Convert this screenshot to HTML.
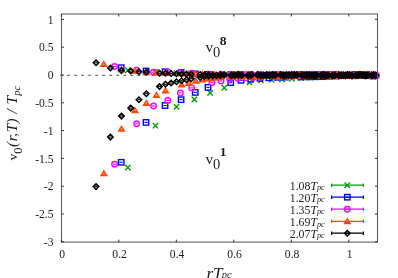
<!DOCTYPE html>
<html><head><meta charset="utf-8"><title>plot</title>
<style>html,body{margin:0;padding:0;background:#fff}body{width:398px;height:278px;overflow:hidden;font-family:"Liberation Serif",serif}</style>
</head><body>
<svg width="398" height="278" viewBox="0 0 398 278" style="display:block;will-change:transform">
<rect width="398" height="278" fill="#fff"/>
<path d="M60.1 75.3H377.5" stroke="#444" stroke-width="0.95" stroke-dasharray="2.8 4.23" fill="none"/>
<g id="data">
<path d="M125.15 164.81L130.55 170.21M125.15 170.21L130.55 164.81" stroke="#00a000" stroke-width="1.4" fill="none"/>
<path d="M152.72 122.98L158.12 128.38M152.72 128.38L158.12 122.98" stroke="#00a000" stroke-width="1.4" fill="none"/>
<path d="M173.87 104.09L179.27 109.49M173.87 109.49L179.27 104.09" stroke="#00a000" stroke-width="1.4" fill="none"/>
<path d="M191.70 96.78L197.10 102.18M191.70 102.18L197.10 96.78" stroke="#00a000" stroke-width="1.4" fill="none"/>
<path d="M207.41 90.18L212.81 95.58M207.41 95.58L212.81 90.18" stroke="#00a000" stroke-width="1.4" fill="none"/>
<path d="M221.62 85.03L227.02 90.43M221.62 90.43L227.02 85.03" stroke="#00a000" stroke-width="1.4" fill="none"/>
<path d="M246.83 79.71L252.23 85.11M246.83 85.11L252.23 79.71" stroke="#00a000" stroke-width="1.4" fill="none"/>
<path d="M258.25 77.72L263.65 83.12M258.25 83.12L263.65 77.72" stroke="#00a000" stroke-width="1.4" fill="none"/>
<path d="M269.05 77.22L274.45 82.62M269.05 82.62L274.45 77.22" stroke="#00a000" stroke-width="1.4" fill="none"/>
<path d="M279.32 76.55L284.72 81.95M279.32 81.95L284.72 76.55" stroke="#00a000" stroke-width="1.4" fill="none"/>
<path d="M289.14 76.00L294.54 81.40M289.14 81.40L294.54 76.00" stroke="#00a000" stroke-width="1.4" fill="none"/>
<path d="M298.55 75.45L303.95 80.85M298.55 80.85L303.95 75.45" stroke="#00a000" stroke-width="1.4" fill="none"/>
<path d="M307.61 74.89L313.01 80.29M307.61 80.29L313.01 74.89" stroke="#00a000" stroke-width="1.4" fill="none"/>
<path d="M324.80 73.62L330.20 79.02M324.80 79.02L330.20 73.62" stroke="#00a000" stroke-width="1.4" fill="none"/>
<path d="M333.00 73.29L338.40 78.69M333.00 78.69L338.40 73.29" stroke="#00a000" stroke-width="1.4" fill="none"/>
<path d="M340.95 73.06L346.35 78.46M340.95 78.46L346.35 73.06" stroke="#00a000" stroke-width="1.4" fill="none"/>
<path d="M348.69 72.95L354.09 78.35M348.69 78.35L354.09 72.95" stroke="#00a000" stroke-width="1.4" fill="none"/>
<path d="M356.22 73.33L361.62 78.73M356.22 78.73L361.62 73.33" stroke="#00a000" stroke-width="1.4" fill="none"/>
<path d="M363.57 72.95L368.97 78.35M363.57 78.35L368.97 72.95" stroke="#00a000" stroke-width="1.4" fill="none"/>
<path d="M370.75 73.32L376.15 78.72M370.75 78.72L376.15 73.32" stroke="#00a000" stroke-width="1.4" fill="none"/>
<path d="M125.15 67.58L130.55 72.98M125.15 72.98L130.55 67.58" stroke="#00a000" stroke-width="1.4" fill="none"/>
<path d="M152.72 69.35L158.12 74.75M152.72 74.75L158.12 69.35" stroke="#00a000" stroke-width="1.4" fill="none"/>
<path d="M173.87 70.46L179.27 75.86M173.87 75.86L179.27 70.46" stroke="#00a000" stroke-width="1.4" fill="none"/>
<path d="M191.70 71.62L197.10 77.02M191.70 77.02L197.10 71.62" stroke="#00a000" stroke-width="1.4" fill="none"/>
<path d="M207.41 71.85L212.81 77.25M207.41 77.25L212.81 71.85" stroke="#00a000" stroke-width="1.4" fill="none"/>
<path d="M221.62 71.96L227.02 77.36M221.62 77.36L227.02 71.96" stroke="#00a000" stroke-width="1.4" fill="none"/>
<path d="M246.83 72.07L252.23 77.47M246.83 77.47L252.23 72.07" stroke="#00a000" stroke-width="1.4" fill="none"/>
<path d="M258.25 72.12L263.65 77.52M258.25 77.52L263.65 72.12" stroke="#00a000" stroke-width="1.4" fill="none"/>
<path d="M269.05 71.98L274.45 77.38M269.05 77.38L274.45 71.98" stroke="#00a000" stroke-width="1.4" fill="none"/>
<path d="M279.32 72.18L284.72 77.58M279.32 77.58L284.72 72.18" stroke="#00a000" stroke-width="1.4" fill="none"/>
<path d="M289.14 71.74L294.54 77.14M289.14 77.14L294.54 71.74" stroke="#00a000" stroke-width="1.4" fill="none"/>
<path d="M298.55 71.88L303.95 77.28M298.55 77.28L303.95 71.88" stroke="#00a000" stroke-width="1.4" fill="none"/>
<path d="M307.61 71.82L313.01 77.22M307.61 77.22L313.01 71.82" stroke="#00a000" stroke-width="1.4" fill="none"/>
<path d="M324.80 72.14L330.20 77.54M324.80 77.54L330.20 72.14" stroke="#00a000" stroke-width="1.4" fill="none"/>
<path d="M333.00 72.51L338.40 77.91M333.00 77.91L338.40 72.51" stroke="#00a000" stroke-width="1.4" fill="none"/>
<path d="M340.95 72.06L346.35 77.46M340.95 77.46L346.35 72.06" stroke="#00a000" stroke-width="1.4" fill="none"/>
<path d="M348.69 71.95L354.09 77.35M348.69 77.35L354.09 71.95" stroke="#00a000" stroke-width="1.4" fill="none"/>
<path d="M356.22 72.53L361.62 77.93M356.22 77.93L361.62 72.53" stroke="#00a000" stroke-width="1.4" fill="none"/>
<path d="M363.57 72.15L368.97 77.55M363.57 77.55L368.97 72.15" stroke="#00a000" stroke-width="1.4" fill="none"/>
<path d="M370.75 72.53L376.15 77.93M370.75 77.93L376.15 72.53" stroke="#00a000" stroke-width="1.4" fill="none"/>
<path d="M119.60 162.30H122.80" stroke="#0000ff" stroke-width="1.1"/><rect x="118.50" y="159.60" width="5.4" height="5.4" stroke="#0000ff" stroke-width="1.4" fill="none"/>
<path d="M144.41 122.41H147.61" stroke="#0000ff" stroke-width="1.1"/><rect x="143.31" y="119.71" width="5.4" height="5.4" stroke="#0000ff" stroke-width="1.4" fill="none"/>
<path d="M163.44 105.51H166.64" stroke="#0000ff" stroke-width="1.1"/><rect x="162.34" y="102.81" width="5.4" height="5.4" stroke="#0000ff" stroke-width="1.4" fill="none"/>
<path d="M179.49 99.70H182.69" stroke="#0000ff" stroke-width="1.1"/><rect x="178.39" y="97.00" width="5.4" height="5.4" stroke="#0000ff" stroke-width="1.4" fill="none"/>
<path d="M193.63 92.38H196.83" stroke="#0000ff" stroke-width="1.1"/><rect x="192.53" y="89.68" width="5.4" height="5.4" stroke="#0000ff" stroke-width="1.4" fill="none"/>
<path d="M206.41 87.40H209.61" stroke="#0000ff" stroke-width="1.1"/><rect x="205.31" y="84.70" width="5.4" height="5.4" stroke="#0000ff" stroke-width="1.4" fill="none"/>
<path d="M229.11 82.69H232.31" stroke="#0000ff" stroke-width="1.1"/><rect x="228.01" y="79.99" width="5.4" height="5.4" stroke="#0000ff" stroke-width="1.4" fill="none"/>
<path d="M239.39 80.31H242.59" stroke="#0000ff" stroke-width="1.1"/><rect x="238.29" y="77.61" width="5.4" height="5.4" stroke="#0000ff" stroke-width="1.4" fill="none"/>
<path d="M249.11 79.31H252.31" stroke="#0000ff" stroke-width="1.1"/><rect x="248.01" y="76.61" width="5.4" height="5.4" stroke="#0000ff" stroke-width="1.4" fill="none"/>
<path d="M258.35 78.31H261.55" stroke="#0000ff" stroke-width="1.1"/><rect x="257.25" y="75.61" width="5.4" height="5.4" stroke="#0000ff" stroke-width="1.4" fill="none"/>
<path d="M267.19 77.81H270.39" stroke="#0000ff" stroke-width="1.1"/><rect x="266.09" y="75.11" width="5.4" height="5.4" stroke="#0000ff" stroke-width="1.4" fill="none"/>
<path d="M275.66 77.32H278.86" stroke="#0000ff" stroke-width="1.1"/><rect x="274.56" y="74.62" width="5.4" height="5.4" stroke="#0000ff" stroke-width="1.4" fill="none"/>
<path d="M283.81 77.09H287.01" stroke="#0000ff" stroke-width="1.1"/><rect x="282.71" y="74.39" width="5.4" height="5.4" stroke="#0000ff" stroke-width="1.4" fill="none"/>
<path d="M299.28 76.98H302.48" stroke="#0000ff" stroke-width="1.1"/><rect x="298.18" y="74.28" width="5.4" height="5.4" stroke="#0000ff" stroke-width="1.4" fill="none"/>
<path d="M306.66 76.87H309.86" stroke="#0000ff" stroke-width="1.1"/><rect x="305.56" y="74.17" width="5.4" height="5.4" stroke="#0000ff" stroke-width="1.4" fill="none"/>
<path d="M313.82 76.76H317.02" stroke="#0000ff" stroke-width="1.1"/><rect x="312.72" y="74.06" width="5.4" height="5.4" stroke="#0000ff" stroke-width="1.4" fill="none"/>
<path d="M320.78 76.65H323.98" stroke="#0000ff" stroke-width="1.1"/><rect x="319.68" y="73.95" width="5.4" height="5.4" stroke="#0000ff" stroke-width="1.4" fill="none"/>
<path d="M327.56 76.21H330.76" stroke="#0000ff" stroke-width="1.1"/><rect x="326.46" y="73.51" width="5.4" height="5.4" stroke="#0000ff" stroke-width="1.4" fill="none"/>
<path d="M334.18 75.93H337.38" stroke="#0000ff" stroke-width="1.1"/><rect x="333.08" y="73.23" width="5.4" height="5.4" stroke="#0000ff" stroke-width="1.4" fill="none"/>
<path d="M340.64 75.65H343.84" stroke="#0000ff" stroke-width="1.1"/><rect x="339.54" y="72.95" width="5.4" height="5.4" stroke="#0000ff" stroke-width="1.4" fill="none"/>
<path d="M353.13 75.34H356.33" stroke="#0000ff" stroke-width="1.1"/><rect x="352.03" y="72.64" width="5.4" height="5.4" stroke="#0000ff" stroke-width="1.4" fill="none"/>
<path d="M359.18 75.59H362.38" stroke="#0000ff" stroke-width="1.1"/><rect x="358.08" y="72.89" width="5.4" height="5.4" stroke="#0000ff" stroke-width="1.4" fill="none"/>
<path d="M365.11 75.45H368.31" stroke="#0000ff" stroke-width="1.1"/><rect x="364.01" y="72.75" width="5.4" height="5.4" stroke="#0000ff" stroke-width="1.4" fill="none"/>
<path d="M370.93 75.99H374.13" stroke="#0000ff" stroke-width="1.1"/><rect x="369.83" y="73.29" width="5.4" height="5.4" stroke="#0000ff" stroke-width="1.4" fill="none"/>
<path d="M119.60 67.73H122.80" stroke="#0000ff" stroke-width="1.1"/><rect x="118.50" y="65.03" width="5.4" height="5.4" stroke="#0000ff" stroke-width="1.4" fill="none"/>
<path d="M144.41 71.00H147.61" stroke="#0000ff" stroke-width="1.1"/><rect x="143.31" y="68.30" width="5.4" height="5.4" stroke="#0000ff" stroke-width="1.4" fill="none"/>
<path d="M163.44 71.78H166.64" stroke="#0000ff" stroke-width="1.1"/><rect x="162.34" y="69.08" width="5.4" height="5.4" stroke="#0000ff" stroke-width="1.4" fill="none"/>
<path d="M179.49 72.50H182.69" stroke="#0000ff" stroke-width="1.1"/><rect x="178.39" y="69.80" width="5.4" height="5.4" stroke="#0000ff" stroke-width="1.4" fill="none"/>
<path d="M193.63 73.88H196.83" stroke="#0000ff" stroke-width="1.1"/><rect x="192.53" y="71.18" width="5.4" height="5.4" stroke="#0000ff" stroke-width="1.4" fill="none"/>
<path d="M206.41 74.44H209.61" stroke="#0000ff" stroke-width="1.1"/><rect x="205.31" y="71.74" width="5.4" height="5.4" stroke="#0000ff" stroke-width="1.4" fill="none"/>
<path d="M229.11 74.66H232.31" stroke="#0000ff" stroke-width="1.1"/><rect x="228.01" y="71.96" width="5.4" height="5.4" stroke="#0000ff" stroke-width="1.4" fill="none"/>
<path d="M239.39 74.77H242.59" stroke="#0000ff" stroke-width="1.1"/><rect x="238.29" y="72.07" width="5.4" height="5.4" stroke="#0000ff" stroke-width="1.4" fill="none"/>
<path d="M249.11 74.82H252.31" stroke="#0000ff" stroke-width="1.1"/><rect x="248.01" y="72.12" width="5.4" height="5.4" stroke="#0000ff" stroke-width="1.4" fill="none"/>
<path d="M258.35 74.84H261.55" stroke="#0000ff" stroke-width="1.1"/><rect x="257.25" y="72.14" width="5.4" height="5.4" stroke="#0000ff" stroke-width="1.4" fill="none"/>
<path d="M267.19 74.86H270.39" stroke="#0000ff" stroke-width="1.1"/><rect x="266.09" y="72.16" width="5.4" height="5.4" stroke="#0000ff" stroke-width="1.4" fill="none"/>
<path d="M275.66 74.84H278.86" stroke="#0000ff" stroke-width="1.1"/><rect x="274.56" y="72.14" width="5.4" height="5.4" stroke="#0000ff" stroke-width="1.4" fill="none"/>
<path d="M283.81 75.17H287.01" stroke="#0000ff" stroke-width="1.1"/><rect x="282.71" y="72.47" width="5.4" height="5.4" stroke="#0000ff" stroke-width="1.4" fill="none"/>
<path d="M299.28 74.68H302.48" stroke="#0000ff" stroke-width="1.1"/><rect x="298.18" y="71.98" width="5.4" height="5.4" stroke="#0000ff" stroke-width="1.4" fill="none"/>
<path d="M306.66 74.78H309.86" stroke="#0000ff" stroke-width="1.1"/><rect x="305.56" y="72.08" width="5.4" height="5.4" stroke="#0000ff" stroke-width="1.4" fill="none"/>
<path d="M313.82 74.57H317.02" stroke="#0000ff" stroke-width="1.1"/><rect x="312.72" y="71.87" width="5.4" height="5.4" stroke="#0000ff" stroke-width="1.4" fill="none"/>
<path d="M320.78 74.53H323.98" stroke="#0000ff" stroke-width="1.1"/><rect x="319.68" y="71.83" width="5.4" height="5.4" stroke="#0000ff" stroke-width="1.4" fill="none"/>
<path d="M327.56 74.74H330.76" stroke="#0000ff" stroke-width="1.1"/><rect x="326.46" y="72.04" width="5.4" height="5.4" stroke="#0000ff" stroke-width="1.4" fill="none"/>
<path d="M334.18 74.57H337.38" stroke="#0000ff" stroke-width="1.1"/><rect x="333.08" y="71.87" width="5.4" height="5.4" stroke="#0000ff" stroke-width="1.4" fill="none"/>
<path d="M340.64 75.19H343.84" stroke="#0000ff" stroke-width="1.1"/><rect x="339.54" y="72.49" width="5.4" height="5.4" stroke="#0000ff" stroke-width="1.4" fill="none"/>
<path d="M353.13 74.54H356.33" stroke="#0000ff" stroke-width="1.1"/><rect x="352.03" y="71.84" width="5.4" height="5.4" stroke="#0000ff" stroke-width="1.4" fill="none"/>
<path d="M359.18 74.80H362.38" stroke="#0000ff" stroke-width="1.1"/><rect x="358.08" y="72.10" width="5.4" height="5.4" stroke="#0000ff" stroke-width="1.4" fill="none"/>
<path d="M365.11 74.66H368.31" stroke="#0000ff" stroke-width="1.1"/><rect x="364.01" y="71.96" width="5.4" height="5.4" stroke="#0000ff" stroke-width="1.4" fill="none"/>
<path d="M370.93 75.21H374.13" stroke="#0000ff" stroke-width="1.1"/><rect x="369.83" y="72.51" width="5.4" height="5.4" stroke="#0000ff" stroke-width="1.4" fill="none"/>
<path d="M112.94 164.18H116.14" stroke="#ff00ff" stroke-width="1.1"/><circle cx="114.54" cy="164.18" r="2.75" stroke="#ff00ff" stroke-width="1.4" fill="none"/>
<path d="M134.99 123.69H138.19" stroke="#ff00ff" stroke-width="1.1"/><circle cx="136.59" cy="123.69" r="2.75" stroke="#ff00ff" stroke-width="1.4" fill="none"/>
<path d="M151.92 106.01H155.12" stroke="#ff00ff" stroke-width="1.1"/><circle cx="153.52" cy="106.01" r="2.75" stroke="#ff00ff" stroke-width="1.4" fill="none"/>
<path d="M166.18 100.47H169.38" stroke="#ff00ff" stroke-width="1.1"/><circle cx="167.78" cy="100.47" r="2.75" stroke="#ff00ff" stroke-width="1.4" fill="none"/>
<path d="M178.75 92.88H181.95" stroke="#ff00ff" stroke-width="1.1"/><circle cx="180.35" cy="92.88" r="2.75" stroke="#ff00ff" stroke-width="1.4" fill="none"/>
<path d="M190.11 87.90H193.31" stroke="#ff00ff" stroke-width="1.1"/><circle cx="191.71" cy="87.90" r="2.75" stroke="#ff00ff" stroke-width="1.4" fill="none"/>
<path d="M210.29 82.69H213.49" stroke="#ff00ff" stroke-width="1.1"/><circle cx="211.89" cy="82.69" r="2.75" stroke="#ff00ff" stroke-width="1.4" fill="none"/>
<path d="M219.42 80.92H222.62" stroke="#ff00ff" stroke-width="1.1"/><circle cx="221.02" cy="80.92" r="2.75" stroke="#ff00ff" stroke-width="1.4" fill="none"/>
<path d="M228.06 79.25H231.26" stroke="#ff00ff" stroke-width="1.1"/><circle cx="229.66" cy="79.25" r="2.75" stroke="#ff00ff" stroke-width="1.4" fill="none"/>
<path d="M236.28 78.31H239.48" stroke="#ff00ff" stroke-width="1.1"/><circle cx="237.88" cy="78.31" r="2.75" stroke="#ff00ff" stroke-width="1.4" fill="none"/>
<path d="M244.13 77.70H247.33" stroke="#ff00ff" stroke-width="1.1"/><circle cx="245.73" cy="77.70" r="2.75" stroke="#ff00ff" stroke-width="1.4" fill="none"/>
<path d="M251.66 77.43H254.86" stroke="#ff00ff" stroke-width="1.1"/><circle cx="253.26" cy="77.43" r="2.75" stroke="#ff00ff" stroke-width="1.4" fill="none"/>
<path d="M258.91 77.21H262.11" stroke="#ff00ff" stroke-width="1.1"/><circle cx="260.51" cy="77.21" r="2.75" stroke="#ff00ff" stroke-width="1.4" fill="none"/>
<path d="M272.66 76.87H275.86" stroke="#ff00ff" stroke-width="1.1"/><circle cx="274.26" cy="76.87" r="2.75" stroke="#ff00ff" stroke-width="1.4" fill="none"/>
<path d="M279.22 76.65H282.42" stroke="#ff00ff" stroke-width="1.1"/><circle cx="280.82" cy="76.65" r="2.75" stroke="#ff00ff" stroke-width="1.4" fill="none"/>
<path d="M285.58 76.48H288.78" stroke="#ff00ff" stroke-width="1.1"/><circle cx="287.18" cy="76.48" r="2.75" stroke="#ff00ff" stroke-width="1.4" fill="none"/>
<path d="M291.77 76.32H294.97" stroke="#ff00ff" stroke-width="1.1"/><circle cx="293.37" cy="76.32" r="2.75" stroke="#ff00ff" stroke-width="1.4" fill="none"/>
<path d="M297.80 76.10H301.00" stroke="#ff00ff" stroke-width="1.1"/><circle cx="299.40" cy="76.10" r="2.75" stroke="#ff00ff" stroke-width="1.4" fill="none"/>
<path d="M303.68 75.93H306.88" stroke="#ff00ff" stroke-width="1.1"/><circle cx="305.28" cy="75.93" r="2.75" stroke="#ff00ff" stroke-width="1.4" fill="none"/>
<path d="M309.42 75.76H312.62" stroke="#ff00ff" stroke-width="1.1"/><circle cx="311.02" cy="75.76" r="2.75" stroke="#ff00ff" stroke-width="1.4" fill="none"/>
<path d="M320.53 75.65H323.73" stroke="#ff00ff" stroke-width="1.1"/><circle cx="322.13" cy="75.65" r="2.75" stroke="#ff00ff" stroke-width="1.4" fill="none"/>
<path d="M325.90 75.59H329.10" stroke="#ff00ff" stroke-width="1.1"/><circle cx="327.50" cy="75.59" r="2.75" stroke="#ff00ff" stroke-width="1.4" fill="none"/>
<path d="M331.18 75.41H334.38" stroke="#ff00ff" stroke-width="1.1"/><circle cx="332.78" cy="75.41" r="2.75" stroke="#ff00ff" stroke-width="1.4" fill="none"/>
<path d="M336.35 75.96H339.55" stroke="#ff00ff" stroke-width="1.1"/><circle cx="337.95" cy="75.96" r="2.75" stroke="#ff00ff" stroke-width="1.4" fill="none"/>
<path d="M346.41 75.40H349.61" stroke="#ff00ff" stroke-width="1.1"/><circle cx="348.01" cy="75.40" r="2.75" stroke="#ff00ff" stroke-width="1.4" fill="none"/>
<path d="M351.31 76.00H354.51" stroke="#ff00ff" stroke-width="1.1"/><circle cx="352.91" cy="76.00" r="2.75" stroke="#ff00ff" stroke-width="1.4" fill="none"/>
<path d="M360.88 75.52H364.08" stroke="#ff00ff" stroke-width="1.1"/><circle cx="362.48" cy="75.52" r="2.75" stroke="#ff00ff" stroke-width="1.4" fill="none"/>
<path d="M365.54 75.20H368.74" stroke="#ff00ff" stroke-width="1.1"/><circle cx="367.14" cy="75.20" r="2.75" stroke="#ff00ff" stroke-width="1.4" fill="none"/>
<path d="M370.14 75.78H373.34" stroke="#ff00ff" stroke-width="1.1"/><circle cx="371.74" cy="75.78" r="2.75" stroke="#ff00ff" stroke-width="1.4" fill="none"/>
<path d="M374.68 75.88H377.88" stroke="#ff00ff" stroke-width="1.1"/><circle cx="376.28" cy="75.88" r="2.75" stroke="#ff00ff" stroke-width="1.4" fill="none"/>
<path d="M112.94 66.51H116.14" stroke="#ff00ff" stroke-width="1.1"/><circle cx="114.54" cy="66.51" r="2.75" stroke="#ff00ff" stroke-width="1.4" fill="none"/>
<path d="M134.99 70.28H138.19" stroke="#ff00ff" stroke-width="1.1"/><circle cx="136.59" cy="70.28" r="2.75" stroke="#ff00ff" stroke-width="1.4" fill="none"/>
<path d="M151.92 72.22H155.12" stroke="#ff00ff" stroke-width="1.1"/><circle cx="153.52" cy="72.22" r="2.75" stroke="#ff00ff" stroke-width="1.4" fill="none"/>
<path d="M166.18 71.89H169.38" stroke="#ff00ff" stroke-width="1.1"/><circle cx="167.78" cy="71.89" r="2.75" stroke="#ff00ff" stroke-width="1.4" fill="none"/>
<path d="M178.75 72.61H181.95" stroke="#ff00ff" stroke-width="1.1"/><circle cx="180.35" cy="72.61" r="2.75" stroke="#ff00ff" stroke-width="1.4" fill="none"/>
<path d="M190.11 73.44H193.31" stroke="#ff00ff" stroke-width="1.1"/><circle cx="191.71" cy="73.44" r="2.75" stroke="#ff00ff" stroke-width="1.4" fill="none"/>
<path d="M210.29 74.44H213.49" stroke="#ff00ff" stroke-width="1.1"/><circle cx="211.89" cy="74.44" r="2.75" stroke="#ff00ff" stroke-width="1.4" fill="none"/>
<path d="M219.42 74.55H222.62" stroke="#ff00ff" stroke-width="1.1"/><circle cx="221.02" cy="74.55" r="2.75" stroke="#ff00ff" stroke-width="1.4" fill="none"/>
<path d="M228.06 74.66H231.26" stroke="#ff00ff" stroke-width="1.1"/><circle cx="229.66" cy="74.66" r="2.75" stroke="#ff00ff" stroke-width="1.4" fill="none"/>
<path d="M236.28 74.77H239.48" stroke="#ff00ff" stroke-width="1.1"/><circle cx="237.88" cy="74.77" r="2.75" stroke="#ff00ff" stroke-width="1.4" fill="none"/>
<path d="M244.13 74.82H247.33" stroke="#ff00ff" stroke-width="1.1"/><circle cx="245.73" cy="74.82" r="2.75" stroke="#ff00ff" stroke-width="1.4" fill="none"/>
<path d="M251.66 75.24H254.86" stroke="#ff00ff" stroke-width="1.1"/><circle cx="253.26" cy="75.24" r="2.75" stroke="#ff00ff" stroke-width="1.4" fill="none"/>
<path d="M258.91 75.21H262.11" stroke="#ff00ff" stroke-width="1.1"/><circle cx="260.51" cy="75.21" r="2.75" stroke="#ff00ff" stroke-width="1.4" fill="none"/>
<path d="M272.66 74.44H275.86" stroke="#ff00ff" stroke-width="1.1"/><circle cx="274.26" cy="74.44" r="2.75" stroke="#ff00ff" stroke-width="1.4" fill="none"/>
<path d="M279.22 74.79H282.42" stroke="#ff00ff" stroke-width="1.1"/><circle cx="280.82" cy="74.79" r="2.75" stroke="#ff00ff" stroke-width="1.4" fill="none"/>
<path d="M285.58 74.91H288.78" stroke="#ff00ff" stroke-width="1.1"/><circle cx="287.18" cy="74.91" r="2.75" stroke="#ff00ff" stroke-width="1.4" fill="none"/>
<path d="M291.77 74.53H294.97" stroke="#ff00ff" stroke-width="1.1"/><circle cx="293.37" cy="74.53" r="2.75" stroke="#ff00ff" stroke-width="1.4" fill="none"/>
<path d="M297.80 75.13H301.00" stroke="#ff00ff" stroke-width="1.1"/><circle cx="299.40" cy="75.13" r="2.75" stroke="#ff00ff" stroke-width="1.4" fill="none"/>
<path d="M303.68 74.69H306.88" stroke="#ff00ff" stroke-width="1.1"/><circle cx="305.28" cy="74.69" r="2.75" stroke="#ff00ff" stroke-width="1.4" fill="none"/>
<path d="M309.42 74.60H312.62" stroke="#ff00ff" stroke-width="1.1"/><circle cx="311.02" cy="74.60" r="2.75" stroke="#ff00ff" stroke-width="1.4" fill="none"/>
<path d="M320.53 74.61H323.73" stroke="#ff00ff" stroke-width="1.1"/><circle cx="322.13" cy="74.61" r="2.75" stroke="#ff00ff" stroke-width="1.4" fill="none"/>
<path d="M325.90 74.79H329.10" stroke="#ff00ff" stroke-width="1.1"/><circle cx="327.50" cy="74.79" r="2.75" stroke="#ff00ff" stroke-width="1.4" fill="none"/>
<path d="M331.18 74.61H334.38" stroke="#ff00ff" stroke-width="1.1"/><circle cx="332.78" cy="74.61" r="2.75" stroke="#ff00ff" stroke-width="1.4" fill="none"/>
<path d="M336.35 75.16H339.55" stroke="#ff00ff" stroke-width="1.1"/><circle cx="337.95" cy="75.16" r="2.75" stroke="#ff00ff" stroke-width="1.4" fill="none"/>
<path d="M346.41 74.62H349.61" stroke="#ff00ff" stroke-width="1.1"/><circle cx="348.01" cy="74.62" r="2.75" stroke="#ff00ff" stroke-width="1.4" fill="none"/>
<path d="M351.31 75.22H354.51" stroke="#ff00ff" stroke-width="1.1"/><circle cx="352.91" cy="75.22" r="2.75" stroke="#ff00ff" stroke-width="1.4" fill="none"/>
<path d="M360.88 74.74H364.08" stroke="#ff00ff" stroke-width="1.1"/><circle cx="362.48" cy="74.74" r="2.75" stroke="#ff00ff" stroke-width="1.4" fill="none"/>
<path d="M365.54 74.42H368.74" stroke="#ff00ff" stroke-width="1.1"/><circle cx="367.14" cy="74.42" r="2.75" stroke="#ff00ff" stroke-width="1.4" fill="none"/>
<path d="M370.14 75.01H373.34" stroke="#ff00ff" stroke-width="1.1"/><circle cx="371.74" cy="75.01" r="2.75" stroke="#ff00ff" stroke-width="1.4" fill="none"/>
<path d="M374.68 75.11H377.88" stroke="#ff00ff" stroke-width="1.1"/><circle cx="376.28" cy="75.11" r="2.75" stroke="#ff00ff" stroke-width="1.4" fill="none"/>
<path d="M103.83 169.62L107.88 176.37H99.78Z" fill="#ff4500"/><path d="M103.83 172.02L104.93 174.22H102.73Z" fill="#ff9a70"/>
<path d="M121.45 124.92L125.50 131.67H117.40Z" fill="#ff4500"/><path d="M121.45 127.32L122.55 129.52H120.35Z" fill="#ff9a70"/>
<path d="M134.96 106.41L139.01 113.16H130.91Z" fill="#ff4500"/><path d="M134.96 108.81L136.06 111.01H133.86Z" fill="#ff9a70"/>
<path d="M146.36 99.32L150.41 106.07H142.31Z" fill="#ff4500"/><path d="M146.36 101.72L147.46 103.92H145.26Z" fill="#ff9a70"/>
<path d="M156.40 91.29L160.45 98.04H152.35Z" fill="#ff4500"/><path d="M156.40 93.69L157.50 95.89H155.30Z" fill="#ff9a70"/>
<path d="M165.48 86.69L169.53 93.44H161.43Z" fill="#ff4500"/><path d="M165.48 89.09L166.58 91.29H164.38Z" fill="#ff9a70"/>
<path d="M181.59 80.87L185.64 87.62H177.54Z" fill="#ff4500"/><path d="M181.59 83.27L182.69 85.47H180.49Z" fill="#ff9a70"/>
<path d="M188.89 79.21L192.94 85.96H184.84Z" fill="#ff4500"/><path d="M188.89 81.61L189.99 83.81H187.79Z" fill="#ff9a70"/>
<path d="M195.79 77.11L199.84 83.86H191.74Z" fill="#ff4500"/><path d="M195.79 79.51L196.89 81.71H194.69Z" fill="#ff9a70"/>
<path d="M202.35 75.83L206.40 82.58H198.30Z" fill="#ff4500"/><path d="M202.35 78.23L203.45 80.43H201.25Z" fill="#ff9a70"/>
<path d="M208.63 74.72L212.68 81.47H204.58Z" fill="#ff4500"/><path d="M208.63 77.12L209.73 79.32H207.53Z" fill="#ff9a70"/>
<path d="M214.64 73.89L218.69 80.64H210.59Z" fill="#ff4500"/><path d="M214.64 76.29L215.74 78.49H213.54Z" fill="#ff9a70"/>
<path d="M220.43 73.34L224.48 80.09H216.38Z" fill="#ff4500"/><path d="M220.43 75.74L221.53 77.94H219.33Z" fill="#ff9a70"/>
<path d="M231.42 72.78L235.47 79.53H227.37Z" fill="#ff4500"/><path d="M231.42 75.19L232.52 77.39H230.32Z" fill="#ff9a70"/>
<path d="M236.65 72.51L240.70 79.26H232.60Z" fill="#ff4500"/><path d="M236.65 74.91L237.75 77.11H235.55Z" fill="#ff9a70"/>
<path d="M241.74 72.23L245.79 78.98H237.69Z" fill="#ff4500"/><path d="M241.74 74.63L242.84 76.83H240.64Z" fill="#ff9a70"/>
<path d="M246.68 71.95L250.73 78.70H242.63Z" fill="#ff4500"/><path d="M246.68 74.35L247.78 76.55H245.58Z" fill="#ff9a70"/>
<path d="M251.50 71.77L255.55 78.52H247.45Z" fill="#ff4500"/><path d="M251.50 74.17L252.60 76.37H250.40Z" fill="#ff9a70"/>
<path d="M256.20 72.37L260.25 79.12H252.15Z" fill="#ff4500"/><path d="M256.20 74.77L257.30 76.97H255.10Z" fill="#ff9a70"/>
<path d="M260.78 71.99L264.83 78.74H256.73Z" fill="#ff4500"/><path d="M260.78 74.39L261.88 76.59H259.68Z" fill="#ff9a70"/>
<path d="M269.65 71.81L273.70 78.56H265.60Z" fill="#ff4500"/><path d="M269.65 74.21L270.75 76.41H268.55Z" fill="#ff9a70"/>
<path d="M273.95 71.62L278.00 78.37H269.90Z" fill="#ff4500"/><path d="M273.95 74.02L275.05 76.22H272.85Z" fill="#ff9a70"/>
<path d="M278.16 72.13L282.21 78.88H274.11Z" fill="#ff4500"/><path d="M278.16 74.53L279.26 76.73H277.06Z" fill="#ff9a70"/>
<path d="M282.29 71.71L286.34 78.46H278.24Z" fill="#ff4500"/><path d="M282.29 74.11L283.39 76.31H281.19Z" fill="#ff9a70"/>
<path d="M290.33 72.25L294.38 79.00H286.28Z" fill="#ff4500"/><path d="M290.33 74.65L291.43 76.85H289.23Z" fill="#ff9a70"/>
<path d="M294.24 71.58L298.29 78.33H290.19Z" fill="#ff4500"/><path d="M294.24 73.98L295.34 76.18H293.14Z" fill="#ff9a70"/>
<path d="M301.88 71.82L305.93 78.57H297.83Z" fill="#ff4500"/><path d="M301.88 74.22L302.98 76.42H300.78Z" fill="#ff9a70"/>
<path d="M305.61 72.22L309.66 78.97H301.56Z" fill="#ff4500"/><path d="M305.61 74.62L306.71 76.82H304.51Z" fill="#ff9a70"/>
<path d="M309.29 71.89L313.34 78.64H305.24Z" fill="#ff4500"/><path d="M309.29 74.29L310.39 76.49H308.19Z" fill="#ff9a70"/>
<path d="M312.91 71.60L316.96 78.35H308.86Z" fill="#ff4500"/><path d="M312.91 74.00L314.01 76.20H311.81Z" fill="#ff9a70"/>
<path d="M316.48 71.76L320.53 78.51H312.43Z" fill="#ff4500"/><path d="M316.48 74.16L317.58 76.36H315.38Z" fill="#ff9a70"/>
<path d="M320.00 71.51L324.05 78.26H315.95Z" fill="#ff4500"/><path d="M320.00 73.91L321.10 76.11H318.90Z" fill="#ff9a70"/>
<path d="M323.47 71.75L327.52 78.50H319.42Z" fill="#ff4500"/><path d="M323.47 74.15L324.57 76.35H322.37Z" fill="#ff9a70"/>
<path d="M330.28 71.90L334.33 78.65H326.23Z" fill="#ff4500"/><path d="M330.28 74.30L331.38 76.50H329.18Z" fill="#ff9a70"/>
<path d="M333.62 72.08L337.67 78.83H329.57Z" fill="#ff4500"/><path d="M333.62 74.48L334.72 76.68H332.52Z" fill="#ff9a70"/>
<path d="M336.92 71.52L340.97 78.27H332.87Z" fill="#ff4500"/><path d="M336.92 73.92L338.02 76.12H335.82Z" fill="#ff9a70"/>
<path d="M340.19 71.69L344.24 78.44H336.14Z" fill="#ff4500"/><path d="M340.19 74.09L341.29 76.29H339.09Z" fill="#ff9a70"/>
<path d="M343.41 72.32L347.46 79.07H339.36Z" fill="#ff4500"/><path d="M343.41 74.72L344.51 76.92H342.31Z" fill="#ff9a70"/>
<path d="M346.60 71.64L350.65 78.39H342.55Z" fill="#ff4500"/><path d="M346.60 74.04L347.70 76.24H345.50Z" fill="#ff9a70"/>
<path d="M349.75 71.59L353.80 78.34H345.70Z" fill="#ff4500"/><path d="M349.75 73.99L350.85 76.19H348.65Z" fill="#ff9a70"/>
<path d="M355.95 72.06L360.00 78.81H351.90Z" fill="#ff4500"/><path d="M355.95 74.46L357.05 76.66H354.85Z" fill="#ff9a70"/>
<path d="M359.01 72.15L363.06 78.90H354.96Z" fill="#ff4500"/><path d="M359.01 74.55L360.11 76.75H357.91Z" fill="#ff9a70"/>
<path d="M362.03 71.96L366.08 78.71H357.98Z" fill="#ff4500"/><path d="M362.03 74.36L363.13 76.56H360.93Z" fill="#ff9a70"/>
<path d="M365.02 72.05L369.07 78.80H360.97Z" fill="#ff4500"/><path d="M365.02 74.45L366.12 76.65H363.92Z" fill="#ff9a70"/>
<path d="M367.99 72.25L372.04 79.00H363.94Z" fill="#ff4500"/><path d="M367.99 74.65L369.09 76.85H366.89Z" fill="#ff9a70"/>
<path d="M370.92 72.30L374.97 79.05H366.87Z" fill="#ff4500"/><path d="M370.92 74.70L372.02 76.90H369.82Z" fill="#ff9a70"/>
<path d="M373.83 71.63L377.88 78.38H369.78Z" fill="#ff4500"/><path d="M373.83 74.03L374.93 76.23H372.73Z" fill="#ff9a70"/>
<path d="M103.83 60.32L107.88 67.07H99.78Z" fill="#ff4500"/><path d="M103.83 62.72L104.93 64.92H102.73Z" fill="#ff9a70"/>
<path d="M121.45 65.58L125.50 72.33H117.40Z" fill="#ff4500"/><path d="M121.45 67.98L122.55 70.18H120.35Z" fill="#ff9a70"/>
<path d="M134.96 66.97L139.01 73.72H130.91Z" fill="#ff4500"/><path d="M134.96 69.37L136.06 71.57H133.86Z" fill="#ff9a70"/>
<path d="M146.36 68.41L150.41 75.16H142.31Z" fill="#ff4500"/><path d="M146.36 70.81L147.46 73.01H145.26Z" fill="#ff9a70"/>
<path d="M156.40 68.91L160.45 75.66H152.35Z" fill="#ff4500"/><path d="M156.40 71.31L157.50 73.51H155.30Z" fill="#ff9a70"/>
<path d="M165.48 69.29L169.53 76.04H161.43Z" fill="#ff4500"/><path d="M165.48 71.69L166.58 73.89H164.38Z" fill="#ff9a70"/>
<path d="M181.59 69.74L185.64 76.49H177.54Z" fill="#ff4500"/><path d="M181.59 72.14L182.69 74.34H180.49Z" fill="#ff9a70"/>
<path d="M188.89 69.85L192.94 76.60H184.84Z" fill="#ff4500"/><path d="M188.89 72.25L189.99 74.45H187.79Z" fill="#ff9a70"/>
<path d="M195.79 70.01L199.84 76.76H191.74Z" fill="#ff4500"/><path d="M195.79 72.41L196.89 74.61H194.69Z" fill="#ff9a70"/>
<path d="M202.35 70.18L206.40 76.93H198.30Z" fill="#ff4500"/><path d="M202.35 72.58L203.45 74.78H201.25Z" fill="#ff9a70"/>
<path d="M208.63 70.29L212.68 77.04H204.58Z" fill="#ff4500"/><path d="M208.63 72.69L209.73 74.89H207.53Z" fill="#ff9a70"/>
<path d="M214.64 70.40L218.69 77.15H210.59Z" fill="#ff4500"/><path d="M214.64 72.80L215.74 75.00H213.54Z" fill="#ff9a70"/>
<path d="M220.43 70.51L224.48 77.26H216.38Z" fill="#ff4500"/><path d="M220.43 72.91L221.53 75.11H219.33Z" fill="#ff9a70"/>
<path d="M231.42 70.62L235.47 77.37H227.37Z" fill="#ff4500"/><path d="M231.42 73.02L232.52 75.22H230.32Z" fill="#ff9a70"/>
<path d="M236.65 70.74L240.70 77.49H232.60Z" fill="#ff4500"/><path d="M236.65 73.14L237.75 75.34H235.55Z" fill="#ff9a70"/>
<path d="M241.74 70.85L245.79 77.60H237.69Z" fill="#ff4500"/><path d="M241.74 73.25L242.84 75.45H240.64Z" fill="#ff9a70"/>
<path d="M246.68 70.71L250.73 77.46H242.63Z" fill="#ff4500"/><path d="M246.68 73.11L247.78 75.31H245.58Z" fill="#ff9a70"/>
<path d="M251.50 70.67L255.55 77.42H247.45Z" fill="#ff4500"/><path d="M251.50 73.07L252.60 75.27H250.40Z" fill="#ff9a70"/>
<path d="M256.20 71.28L260.25 78.03H252.15Z" fill="#ff4500"/><path d="M256.20 73.68L257.30 75.88H255.10Z" fill="#ff9a70"/>
<path d="M260.78 70.90L264.83 77.65H256.73Z" fill="#ff4500"/><path d="M260.78 73.30L261.88 75.50H259.68Z" fill="#ff9a70"/>
<path d="M269.65 70.73L273.70 77.48H265.60Z" fill="#ff4500"/><path d="M269.65 73.13L270.75 75.33H268.55Z" fill="#ff9a70"/>
<path d="M273.95 70.55L278.00 77.30H269.90Z" fill="#ff4500"/><path d="M273.95 72.95L275.05 75.15H272.85Z" fill="#ff9a70"/>
<path d="M278.16 71.06L282.21 77.81H274.11Z" fill="#ff4500"/><path d="M278.16 73.46L279.26 75.66H277.06Z" fill="#ff9a70"/>
<path d="M282.29 70.65L286.34 77.40H278.24Z" fill="#ff4500"/><path d="M282.29 73.05L283.39 75.25H281.19Z" fill="#ff9a70"/>
<path d="M290.33 71.19L294.38 77.94H286.28Z" fill="#ff4500"/><path d="M290.33 73.59L291.43 75.79H289.23Z" fill="#ff9a70"/>
<path d="M294.24 70.53L298.29 77.28H290.19Z" fill="#ff4500"/><path d="M294.24 72.93L295.34 75.13H293.14Z" fill="#ff9a70"/>
<path d="M301.88 70.78L305.93 77.53H297.83Z" fill="#ff4500"/><path d="M301.88 73.18L302.98 75.38H300.78Z" fill="#ff9a70"/>
<path d="M305.61 71.18L309.66 77.93H301.56Z" fill="#ff4500"/><path d="M305.61 73.58L306.71 75.78H304.51Z" fill="#ff9a70"/>
<path d="M309.29 70.85L313.34 77.60H305.24Z" fill="#ff4500"/><path d="M309.29 73.25L310.39 75.45H308.19Z" fill="#ff9a70"/>
<path d="M312.91 70.57L316.96 77.32H308.86Z" fill="#ff4500"/><path d="M312.91 72.97L314.01 75.17H311.81Z" fill="#ff9a70"/>
<path d="M316.48 70.73L320.53 77.48H312.43Z" fill="#ff4500"/><path d="M316.48 73.13L317.58 75.33H315.38Z" fill="#ff9a70"/>
<path d="M320.00 70.48L324.05 77.23H315.95Z" fill="#ff4500"/><path d="M320.00 72.88L321.10 75.08H318.90Z" fill="#ff9a70"/>
<path d="M323.47 70.73L327.52 77.48H319.42Z" fill="#ff4500"/><path d="M323.47 73.13L324.57 75.33H322.37Z" fill="#ff9a70"/>
<path d="M330.28 70.89L334.33 77.64H326.23Z" fill="#ff4500"/><path d="M330.28 73.29L331.38 75.49H329.18Z" fill="#ff9a70"/>
<path d="M333.62 71.07L337.67 77.82H329.57Z" fill="#ff4500"/><path d="M333.62 73.47L334.72 75.67H332.52Z" fill="#ff9a70"/>
<path d="M336.92 70.51L340.97 77.26H332.87Z" fill="#ff4500"/><path d="M336.92 72.91L338.02 75.11H335.82Z" fill="#ff9a70"/>
<path d="M340.19 70.69L344.24 77.44H336.14Z" fill="#ff4500"/><path d="M340.19 73.09L341.29 75.29H339.09Z" fill="#ff9a70"/>
<path d="M343.41 71.32L347.46 78.07H339.36Z" fill="#ff4500"/><path d="M343.41 73.72L344.51 75.92H342.31Z" fill="#ff9a70"/>
<path d="M346.60 70.64L350.65 77.39H342.55Z" fill="#ff4500"/><path d="M346.60 73.04L347.70 75.24H345.50Z" fill="#ff9a70"/>
<path d="M349.75 70.59L353.80 77.34H345.70Z" fill="#ff4500"/><path d="M349.75 72.99L350.85 75.19H348.65Z" fill="#ff9a70"/>
<path d="M355.95 71.08L360.00 77.83H351.90Z" fill="#ff4500"/><path d="M355.95 73.48L357.05 75.68H354.85Z" fill="#ff9a70"/>
<path d="M359.01 71.17L363.06 77.92H354.96Z" fill="#ff4500"/><path d="M359.01 73.57L360.11 75.77H357.91Z" fill="#ff9a70"/>
<path d="M362.03 70.98L366.08 77.73H357.98Z" fill="#ff4500"/><path d="M362.03 73.38L363.13 75.58H360.93Z" fill="#ff9a70"/>
<path d="M365.02 71.07L369.07 77.82H360.97Z" fill="#ff4500"/><path d="M365.02 73.47L366.12 75.67H363.92Z" fill="#ff9a70"/>
<path d="M367.99 71.28L372.04 78.03H363.94Z" fill="#ff4500"/><path d="M367.99 73.68L369.09 75.88H366.89Z" fill="#ff9a70"/>
<path d="M370.92 71.33L374.97 78.08H366.87Z" fill="#ff4500"/><path d="M370.92 73.73L372.02 75.93H369.82Z" fill="#ff9a70"/>
<path d="M373.83 70.67L377.88 77.42H369.78Z" fill="#ff4500"/><path d="M373.83 73.07L374.93 75.27H372.73Z" fill="#ff9a70"/>
<path d="M94.42 186.62H97.62" stroke="#000000" stroke-width="1.1"/><path d="M96.02 183.87L98.77 186.62L96.02 189.37L93.27 186.62Z" stroke="#000000" stroke-width="1.5" fill="none"/>
<path d="M108.80 137.09H112.00" stroke="#000000" stroke-width="1.1"/><path d="M110.40 134.34L113.15 137.09L110.40 139.84L107.65 137.09Z" stroke="#000000" stroke-width="1.5" fill="none"/>
<path d="M119.84 116.10H123.04" stroke="#000000" stroke-width="1.1"/><path d="M121.44 113.35L124.19 116.10L121.44 118.85L118.69 116.10Z" stroke="#000000" stroke-width="1.5" fill="none"/>
<path d="M129.14 108.12H132.34" stroke="#000000" stroke-width="1.1"/><path d="M130.74 105.37L133.49 108.12L130.74 110.87L127.99 108.12Z" stroke="#000000" stroke-width="1.5" fill="none"/>
<path d="M137.34 99.70H140.54" stroke="#000000" stroke-width="1.1"/><path d="M138.94 96.95L141.69 99.70L138.94 102.45L136.19 99.70Z" stroke="#000000" stroke-width="1.5" fill="none"/>
<path d="M144.75 93.71H147.95" stroke="#000000" stroke-width="1.1"/><path d="M146.35 90.96L149.10 93.71L146.35 96.46L143.60 93.71Z" stroke="#000000" stroke-width="1.5" fill="none"/>
<path d="M157.91 86.62H161.11" stroke="#000000" stroke-width="1.1"/><path d="M159.51 83.87L162.26 86.62L159.51 89.37L156.76 86.62Z" stroke="#000000" stroke-width="1.5" fill="none"/>
<path d="M163.87 84.30H167.07" stroke="#000000" stroke-width="1.1"/><path d="M165.47 81.55L168.22 84.30L165.47 87.05L162.72 84.30Z" stroke="#000000" stroke-width="1.5" fill="none"/>
<path d="M169.50 83.02H172.70" stroke="#000000" stroke-width="1.1"/><path d="M171.10 80.27L173.85 83.02L171.10 85.77L168.35 83.02Z" stroke="#000000" stroke-width="1.5" fill="none"/>
<path d="M174.86 81.69H178.06" stroke="#000000" stroke-width="1.1"/><path d="M176.46 78.94L179.21 81.69L176.46 84.44L173.71 81.69Z" stroke="#000000" stroke-width="1.5" fill="none"/>
<path d="M179.98 80.81H183.18" stroke="#000000" stroke-width="1.1"/><path d="M181.58 78.06L184.33 80.81L181.58 83.56L178.83 80.81Z" stroke="#000000" stroke-width="1.5" fill="none"/>
<path d="M184.89 79.81H188.09" stroke="#000000" stroke-width="1.1"/><path d="M186.49 77.06L189.24 79.81L186.49 82.56L183.74 79.81Z" stroke="#000000" stroke-width="1.5" fill="none"/>
<path d="M189.62 78.70H192.82" stroke="#000000" stroke-width="1.1"/><path d="M191.22 75.95L193.97 78.70L191.22 81.45L188.47 78.70Z" stroke="#000000" stroke-width="1.5" fill="none"/>
<path d="M198.59 77.32H201.79" stroke="#000000" stroke-width="1.1"/><path d="M200.19 74.57L202.94 77.32L200.19 80.07L197.44 77.32Z" stroke="#000000" stroke-width="1.5" fill="none"/>
<path d="M202.86 76.60H206.06" stroke="#000000" stroke-width="1.1"/><path d="M204.46 73.85L207.21 76.60L204.46 79.35L201.71 76.60Z" stroke="#000000" stroke-width="1.5" fill="none"/>
<path d="M207.01 76.21H210.21" stroke="#000000" stroke-width="1.1"/><path d="M208.61 73.46L211.36 76.21L208.61 78.96L205.86 76.21Z" stroke="#000000" stroke-width="1.5" fill="none"/>
<path d="M211.05 75.93H214.25" stroke="#000000" stroke-width="1.1"/><path d="M212.65 73.18L215.40 75.93L212.65 78.68L209.90 75.93Z" stroke="#000000" stroke-width="1.5" fill="none"/>
<path d="M214.98 75.65H218.18" stroke="#000000" stroke-width="1.1"/><path d="M216.58 72.90L219.33 75.65L216.58 78.40L213.83 75.65Z" stroke="#000000" stroke-width="1.5" fill="none"/>
<path d="M218.82 75.54H222.02" stroke="#000000" stroke-width="1.1"/><path d="M220.42 72.79L223.17 75.54L220.42 78.29L217.67 75.54Z" stroke="#000000" stroke-width="1.5" fill="none"/>
<path d="M222.56 75.23H225.76" stroke="#000000" stroke-width="1.1"/><path d="M224.16 72.48L226.91 75.23L224.16 77.98L221.41 75.23Z" stroke="#000000" stroke-width="1.5" fill="none"/>
<path d="M229.80 75.66H233.00" stroke="#000000" stroke-width="1.1"/><path d="M231.40 72.91L234.15 75.66L231.40 78.41L228.65 75.66Z" stroke="#000000" stroke-width="1.5" fill="none"/>
<path d="M233.31 75.54H236.51" stroke="#000000" stroke-width="1.1"/><path d="M234.91 72.79L237.66 75.54L234.91 78.29L232.16 75.54Z" stroke="#000000" stroke-width="1.5" fill="none"/>
<path d="M236.75 75.10H239.95" stroke="#000000" stroke-width="1.1"/><path d="M238.35 72.35L241.10 75.10L238.35 77.85L235.60 75.10Z" stroke="#000000" stroke-width="1.5" fill="none"/>
<path d="M240.12 75.59H243.32" stroke="#000000" stroke-width="1.1"/><path d="M241.72 72.84L244.47 75.59L241.72 78.34L238.97 75.59Z" stroke="#000000" stroke-width="1.5" fill="none"/>
<path d="M246.68 75.75H249.88" stroke="#000000" stroke-width="1.1"/><path d="M248.28 73.00L251.03 75.75L248.28 78.50L245.53 75.75Z" stroke="#000000" stroke-width="1.5" fill="none"/>
<path d="M249.88 75.26H253.08" stroke="#000000" stroke-width="1.1"/><path d="M251.48 72.51L254.23 75.26L251.48 78.01L248.73 75.26Z" stroke="#000000" stroke-width="1.5" fill="none"/>
<path d="M256.12 75.19H259.32" stroke="#000000" stroke-width="1.1"/><path d="M257.72 72.44L260.47 75.19L257.72 77.94L254.97 75.19Z" stroke="#000000" stroke-width="1.5" fill="none"/>
<path d="M259.16 75.85H262.36" stroke="#000000" stroke-width="1.1"/><path d="M260.76 73.10L263.51 75.85L260.76 78.60L258.01 75.85Z" stroke="#000000" stroke-width="1.5" fill="none"/>
<path d="M262.16 75.66H265.36" stroke="#000000" stroke-width="1.1"/><path d="M263.76 72.91L266.51 75.66L263.76 78.41L261.01 75.66Z" stroke="#000000" stroke-width="1.5" fill="none"/>
<path d="M265.12 75.38H268.32" stroke="#000000" stroke-width="1.1"/><path d="M266.72 72.63L269.47 75.38L266.72 78.13L263.97 75.38Z" stroke="#000000" stroke-width="1.5" fill="none"/>
<path d="M268.03 75.90H271.23" stroke="#000000" stroke-width="1.1"/><path d="M269.63 73.15L272.38 75.90L269.63 78.65L266.88 75.90Z" stroke="#000000" stroke-width="1.5" fill="none"/>
<path d="M270.91 75.22H274.11" stroke="#000000" stroke-width="1.1"/><path d="M272.51 72.47L275.26 75.22L272.51 77.97L269.76 75.22Z" stroke="#000000" stroke-width="1.5" fill="none"/>
<path d="M273.74 75.42H276.94" stroke="#000000" stroke-width="1.1"/><path d="M275.34 72.67L278.09 75.42L275.34 78.17L272.59 75.42Z" stroke="#000000" stroke-width="1.5" fill="none"/>
<path d="M279.30 75.19H282.50" stroke="#000000" stroke-width="1.1"/><path d="M280.90 72.44L283.65 75.19L280.90 77.94L278.15 75.19Z" stroke="#000000" stroke-width="1.5" fill="none"/>
<path d="M282.03 75.82H285.23" stroke="#000000" stroke-width="1.1"/><path d="M283.63 73.07L286.38 75.82L283.63 78.57L280.88 75.82Z" stroke="#000000" stroke-width="1.5" fill="none"/>
<path d="M284.73 75.47H287.93" stroke="#000000" stroke-width="1.1"/><path d="M286.33 72.72L289.08 75.47L286.33 78.22L283.58 75.47Z" stroke="#000000" stroke-width="1.5" fill="none"/>
<path d="M287.39 75.41H290.59" stroke="#000000" stroke-width="1.1"/><path d="M288.99 72.66L291.74 75.41L288.99 78.16L286.24 75.41Z" stroke="#000000" stroke-width="1.5" fill="none"/>
<path d="M290.02 75.33H293.22" stroke="#000000" stroke-width="1.1"/><path d="M291.62 72.58L294.37 75.33L291.62 78.08L288.87 75.33Z" stroke="#000000" stroke-width="1.5" fill="none"/>
<path d="M292.62 75.26H295.82" stroke="#000000" stroke-width="1.1"/><path d="M294.22 72.51L296.97 75.26L294.22 78.01L291.47 75.26Z" stroke="#000000" stroke-width="1.5" fill="none"/>
<path d="M295.20 75.20H298.40" stroke="#000000" stroke-width="1.1"/><path d="M296.80 72.45L299.55 75.20L296.80 77.95L294.05 75.20Z" stroke="#000000" stroke-width="1.5" fill="none"/>
<path d="M300.26 75.33H303.46" stroke="#000000" stroke-width="1.1"/><path d="M301.86 72.58L304.61 75.33L301.86 78.08L299.11 75.33Z" stroke="#000000" stroke-width="1.5" fill="none"/>
<path d="M302.76 75.79H305.96" stroke="#000000" stroke-width="1.1"/><path d="M304.36 73.04L307.11 75.79L304.36 78.54L301.61 75.79Z" stroke="#000000" stroke-width="1.5" fill="none"/>
<path d="M305.22 75.56H308.42" stroke="#000000" stroke-width="1.1"/><path d="M306.82 72.81L309.57 75.56L306.82 78.31L304.07 75.56Z" stroke="#000000" stroke-width="1.5" fill="none"/>
<path d="M307.67 75.44H310.87" stroke="#000000" stroke-width="1.1"/><path d="M309.27 72.69L312.02 75.44L309.27 78.19L306.52 75.44Z" stroke="#000000" stroke-width="1.5" fill="none"/>
<path d="M310.09 75.71H313.29" stroke="#000000" stroke-width="1.1"/><path d="M311.69 72.96L314.44 75.71L311.69 78.46L308.94 75.71Z" stroke="#000000" stroke-width="1.5" fill="none"/>
<path d="M312.48 75.68H315.68" stroke="#000000" stroke-width="1.1"/><path d="M314.08 72.93L316.83 75.68L314.08 78.43L311.33 75.68Z" stroke="#000000" stroke-width="1.5" fill="none"/>
<path d="M314.86 75.77H318.06" stroke="#000000" stroke-width="1.1"/><path d="M316.46 73.02L319.21 75.77L316.46 78.52L313.71 75.77Z" stroke="#000000" stroke-width="1.5" fill="none"/>
<path d="M319.54 75.76H322.74" stroke="#000000" stroke-width="1.1"/><path d="M321.14 73.01L323.89 75.76L321.14 78.51L318.39 75.76Z" stroke="#000000" stroke-width="1.5" fill="none"/>
<path d="M321.85 75.16H325.05" stroke="#000000" stroke-width="1.1"/><path d="M323.45 72.41L326.20 75.16L323.45 77.91L320.70 75.16Z" stroke="#000000" stroke-width="1.5" fill="none"/>
<path d="M324.14 75.83H327.34" stroke="#000000" stroke-width="1.1"/><path d="M325.74 73.08L328.49 75.83L325.74 78.58L322.99 75.83Z" stroke="#000000" stroke-width="1.5" fill="none"/>
<path d="M326.41 75.54H329.61" stroke="#000000" stroke-width="1.1"/><path d="M328.01 72.79L330.76 75.54L328.01 78.29L325.26 75.54Z" stroke="#000000" stroke-width="1.5" fill="none"/>
<path d="M330.89 75.88H334.09" stroke="#000000" stroke-width="1.1"/><path d="M332.49 73.13L335.24 75.88L332.49 78.63L329.74 75.88Z" stroke="#000000" stroke-width="1.5" fill="none"/>
<path d="M333.10 75.72H336.30" stroke="#000000" stroke-width="1.1"/><path d="M334.70 72.97L337.45 75.72L334.70 78.47L331.95 75.72Z" stroke="#000000" stroke-width="1.5" fill="none"/>
<path d="M337.48 75.68H340.68" stroke="#000000" stroke-width="1.1"/><path d="M339.08 72.93L341.83 75.68L339.08 78.43L336.33 75.68Z" stroke="#000000" stroke-width="1.5" fill="none"/>
<path d="M339.64 75.57H342.84" stroke="#000000" stroke-width="1.1"/><path d="M341.24 72.82L343.99 75.57L341.24 78.32L338.49 75.57Z" stroke="#000000" stroke-width="1.5" fill="none"/>
<path d="M341.78 75.56H344.98" stroke="#000000" stroke-width="1.1"/><path d="M343.38 72.81L346.13 75.56L343.38 78.31L340.63 75.56Z" stroke="#000000" stroke-width="1.5" fill="none"/>
<path d="M343.91 75.83H347.11" stroke="#000000" stroke-width="1.1"/><path d="M345.51 73.08L348.26 75.83L345.51 78.58L342.76 75.83Z" stroke="#000000" stroke-width="1.5" fill="none"/>
<path d="M346.03 75.13H349.23" stroke="#000000" stroke-width="1.1"/><path d="M347.63 72.38L350.38 75.13L347.63 77.88L344.88 75.13Z" stroke="#000000" stroke-width="1.5" fill="none"/>
<path d="M348.12 75.54H351.32" stroke="#000000" stroke-width="1.1"/><path d="M349.72 72.79L352.47 75.54L349.72 78.29L346.97 75.54Z" stroke="#000000" stroke-width="1.5" fill="none"/>
<path d="M350.21 75.83H353.41" stroke="#000000" stroke-width="1.1"/><path d="M351.81 73.08L354.56 75.83L351.81 78.58L349.06 75.83Z" stroke="#000000" stroke-width="1.5" fill="none"/>
<path d="M354.33 75.78H357.53" stroke="#000000" stroke-width="1.1"/><path d="M355.93 73.03L358.68 75.78L355.93 78.53L353.18 75.78Z" stroke="#000000" stroke-width="1.5" fill="none"/>
<path d="M356.37 75.56H359.57" stroke="#000000" stroke-width="1.1"/><path d="M357.97 72.81L360.72 75.56L357.97 78.31L355.22 75.56Z" stroke="#000000" stroke-width="1.5" fill="none"/>
<path d="M358.39 75.05H361.59" stroke="#000000" stroke-width="1.1"/><path d="M359.99 72.30L362.74 75.05L359.99 77.80L357.24 75.05Z" stroke="#000000" stroke-width="1.5" fill="none"/>
<path d="M360.40 75.31H363.60" stroke="#000000" stroke-width="1.1"/><path d="M362.00 72.56L364.75 75.31L362.00 78.06L359.25 75.31Z" stroke="#000000" stroke-width="1.5" fill="none"/>
<path d="M362.40 75.67H365.60" stroke="#000000" stroke-width="1.1"/><path d="M364.00 72.92L366.75 75.67L364.00 78.42L361.25 75.67Z" stroke="#000000" stroke-width="1.5" fill="none"/>
<path d="M364.39 75.92H367.59" stroke="#000000" stroke-width="1.1"/><path d="M365.99 73.17L368.74 75.92L365.99 78.67L363.24 75.92Z" stroke="#000000" stroke-width="1.5" fill="none"/>
<path d="M366.36 75.36H369.56" stroke="#000000" stroke-width="1.1"/><path d="M367.96 72.61L370.71 75.36L367.96 78.11L365.21 75.36Z" stroke="#000000" stroke-width="1.5" fill="none"/>
<path d="M370.26 75.64H373.46" stroke="#000000" stroke-width="1.1"/><path d="M371.86 72.89L374.61 75.64L371.86 78.39L369.11 75.64Z" stroke="#000000" stroke-width="1.5" fill="none"/>
<path d="M372.20 75.30H375.40" stroke="#000000" stroke-width="1.1"/><path d="M373.80 72.55L376.55 75.30L373.80 78.05L371.05 75.30Z" stroke="#000000" stroke-width="1.5" fill="none"/>
<path d="M374.12 75.66H377.32" stroke="#000000" stroke-width="1.1"/><path d="M375.72 72.91L378.47 75.66L375.72 78.41L372.97 75.66Z" stroke="#000000" stroke-width="1.5" fill="none"/>
<path d="M94.42 62.75H97.62" stroke="#000000" stroke-width="1.1"/><path d="M96.02 60.00L98.77 62.75L96.02 65.50L93.27 62.75Z" stroke="#000000" stroke-width="1.5" fill="none"/>
<path d="M108.80 68.01H112.00" stroke="#000000" stroke-width="1.1"/><path d="M110.40 65.26L113.15 68.01L110.40 70.76L107.65 68.01Z" stroke="#000000" stroke-width="1.5" fill="none"/>
<path d="M119.84 70.61H123.04" stroke="#000000" stroke-width="1.1"/><path d="M121.44 67.86L124.19 70.61L121.44 73.36L118.69 70.61Z" stroke="#000000" stroke-width="1.5" fill="none"/>
<path d="M129.14 71.06H132.34" stroke="#000000" stroke-width="1.1"/><path d="M130.74 68.31L133.49 71.06L130.74 73.81L127.99 71.06Z" stroke="#000000" stroke-width="1.5" fill="none"/>
<path d="M137.34 71.78H140.54" stroke="#000000" stroke-width="1.1"/><path d="M138.94 69.03L141.69 71.78L138.94 74.53L136.19 71.78Z" stroke="#000000" stroke-width="1.5" fill="none"/>
<path d="M144.75 72.11H147.95" stroke="#000000" stroke-width="1.1"/><path d="M146.35 69.36L149.10 72.11L146.35 74.86L143.60 72.11Z" stroke="#000000" stroke-width="1.5" fill="none"/>
<path d="M157.91 73.16H161.11" stroke="#000000" stroke-width="1.1"/><path d="M159.51 70.41L162.26 73.16L159.51 75.91L156.76 73.16Z" stroke="#000000" stroke-width="1.5" fill="none"/>
<path d="M163.87 73.27H167.07" stroke="#000000" stroke-width="1.1"/><path d="M165.47 70.52L168.22 73.27L165.47 76.02L162.72 73.27Z" stroke="#000000" stroke-width="1.5" fill="none"/>
<path d="M169.50 73.55H172.70" stroke="#000000" stroke-width="1.1"/><path d="M171.10 70.80L173.85 73.55L171.10 76.30L168.35 73.55Z" stroke="#000000" stroke-width="1.5" fill="none"/>
<path d="M174.86 73.71H178.06" stroke="#000000" stroke-width="1.1"/><path d="M176.46 70.96L179.21 73.71L176.46 76.46L173.71 73.71Z" stroke="#000000" stroke-width="1.5" fill="none"/>
<path d="M179.98 73.88H183.18" stroke="#000000" stroke-width="1.1"/><path d="M181.58 71.13L184.33 73.88L181.58 76.63L178.83 73.88Z" stroke="#000000" stroke-width="1.5" fill="none"/>
<path d="M184.89 73.99H188.09" stroke="#000000" stroke-width="1.1"/><path d="M186.49 71.24L189.24 73.99L186.49 76.74L183.74 73.99Z" stroke="#000000" stroke-width="1.5" fill="none"/>
<path d="M189.62 74.27H192.82" stroke="#000000" stroke-width="1.1"/><path d="M191.22 71.52L193.97 74.27L191.22 77.02L188.47 74.27Z" stroke="#000000" stroke-width="1.5" fill="none"/>
<path d="M198.59 74.55H201.79" stroke="#000000" stroke-width="1.1"/><path d="M200.19 71.80L202.94 74.55L200.19 77.30L197.44 74.55Z" stroke="#000000" stroke-width="1.5" fill="none"/>
<path d="M202.86 74.77H206.06" stroke="#000000" stroke-width="1.1"/><path d="M204.46 72.02L207.21 74.77L204.46 77.52L201.71 74.77Z" stroke="#000000" stroke-width="1.5" fill="none"/>
<path d="M207.01 74.82H210.21" stroke="#000000" stroke-width="1.1"/><path d="M208.61 72.07L211.36 74.82L208.61 77.57L205.86 74.82Z" stroke="#000000" stroke-width="1.5" fill="none"/>
<path d="M211.05 74.97H214.25" stroke="#000000" stroke-width="1.1"/><path d="M212.65 72.22L215.40 74.97L212.65 77.72L209.90 74.97Z" stroke="#000000" stroke-width="1.5" fill="none"/>
<path d="M214.98 75.20H218.18" stroke="#000000" stroke-width="1.1"/><path d="M216.58 72.45L219.33 75.20L216.58 77.95L213.83 75.20Z" stroke="#000000" stroke-width="1.5" fill="none"/>
<path d="M218.82 74.60H222.02" stroke="#000000" stroke-width="1.1"/><path d="M220.42 71.85L223.17 74.60L220.42 77.35L217.67 74.60Z" stroke="#000000" stroke-width="1.5" fill="none"/>
<path d="M222.56 74.52H225.76" stroke="#000000" stroke-width="1.1"/><path d="M224.16 71.77L226.91 74.52L224.16 77.27L221.41 74.52Z" stroke="#000000" stroke-width="1.5" fill="none"/>
<path d="M229.80 74.95H233.00" stroke="#000000" stroke-width="1.1"/><path d="M231.40 72.20L234.15 74.95L231.40 77.70L228.65 74.95Z" stroke="#000000" stroke-width="1.5" fill="none"/>
<path d="M233.31 74.83H236.51" stroke="#000000" stroke-width="1.1"/><path d="M234.91 72.08L237.66 74.83L234.91 77.58L232.16 74.83Z" stroke="#000000" stroke-width="1.5" fill="none"/>
<path d="M236.75 74.40H239.95" stroke="#000000" stroke-width="1.1"/><path d="M238.35 71.65L241.10 74.40L238.35 77.15L235.60 74.40Z" stroke="#000000" stroke-width="1.5" fill="none"/>
<path d="M240.12 74.88H243.32" stroke="#000000" stroke-width="1.1"/><path d="M241.72 72.13L244.47 74.88L241.72 77.63L238.97 74.88Z" stroke="#000000" stroke-width="1.5" fill="none"/>
<path d="M246.68 75.05H249.88" stroke="#000000" stroke-width="1.1"/><path d="M248.28 72.30L251.03 75.05L248.28 77.80L245.53 75.05Z" stroke="#000000" stroke-width="1.5" fill="none"/>
<path d="M249.88 74.56H253.08" stroke="#000000" stroke-width="1.1"/><path d="M251.48 71.81L254.23 74.56L251.48 77.31L248.73 74.56Z" stroke="#000000" stroke-width="1.5" fill="none"/>
<path d="M256.12 74.50H259.32" stroke="#000000" stroke-width="1.1"/><path d="M257.72 71.75L260.47 74.50L257.72 77.25L254.97 74.50Z" stroke="#000000" stroke-width="1.5" fill="none"/>
<path d="M259.16 75.16H262.36" stroke="#000000" stroke-width="1.1"/><path d="M260.76 72.41L263.51 75.16L260.76 77.91L258.01 75.16Z" stroke="#000000" stroke-width="1.5" fill="none"/>
<path d="M262.16 74.97H265.36" stroke="#000000" stroke-width="1.1"/><path d="M263.76 72.22L266.51 74.97L263.76 77.72L261.01 74.97Z" stroke="#000000" stroke-width="1.5" fill="none"/>
<path d="M265.12 74.69H268.32" stroke="#000000" stroke-width="1.1"/><path d="M266.72 71.94L269.47 74.69L266.72 77.44L263.97 74.69Z" stroke="#000000" stroke-width="1.5" fill="none"/>
<path d="M268.03 75.22H271.23" stroke="#000000" stroke-width="1.1"/><path d="M269.63 72.47L272.38 75.22L269.63 77.97L266.88 75.22Z" stroke="#000000" stroke-width="1.5" fill="none"/>
<path d="M270.91 74.54H274.11" stroke="#000000" stroke-width="1.1"/><path d="M272.51 71.79L275.26 74.54L272.51 77.29L269.76 74.54Z" stroke="#000000" stroke-width="1.5" fill="none"/>
<path d="M273.74 74.74H276.94" stroke="#000000" stroke-width="1.1"/><path d="M275.34 71.99L278.09 74.74L275.34 77.49L272.59 74.74Z" stroke="#000000" stroke-width="1.5" fill="none"/>
<path d="M279.30 74.52H282.50" stroke="#000000" stroke-width="1.1"/><path d="M280.90 71.77L283.65 74.52L280.90 77.27L278.15 74.52Z" stroke="#000000" stroke-width="1.5" fill="none"/>
<path d="M282.03 75.15H285.23" stroke="#000000" stroke-width="1.1"/><path d="M283.63 72.40L286.38 75.15L283.63 77.90L280.88 75.15Z" stroke="#000000" stroke-width="1.5" fill="none"/>
<path d="M284.73 74.80H287.93" stroke="#000000" stroke-width="1.1"/><path d="M286.33 72.05L289.08 74.80L286.33 77.55L283.58 74.80Z" stroke="#000000" stroke-width="1.5" fill="none"/>
<path d="M287.39 74.75H290.59" stroke="#000000" stroke-width="1.1"/><path d="M288.99 72.00L291.74 74.75L288.99 77.50L286.24 74.75Z" stroke="#000000" stroke-width="1.5" fill="none"/>
<path d="M290.02 74.67H293.22" stroke="#000000" stroke-width="1.1"/><path d="M291.62 71.92L294.37 74.67L291.62 77.42L288.87 74.67Z" stroke="#000000" stroke-width="1.5" fill="none"/>
<path d="M292.62 74.59H295.82" stroke="#000000" stroke-width="1.1"/><path d="M294.22 71.84L296.97 74.59L294.22 77.34L291.47 74.59Z" stroke="#000000" stroke-width="1.5" fill="none"/>
<path d="M295.20 74.54H298.40" stroke="#000000" stroke-width="1.1"/><path d="M296.80 71.79L299.55 74.54L296.80 77.29L294.05 74.54Z" stroke="#000000" stroke-width="1.5" fill="none"/>
<path d="M300.26 74.67H303.46" stroke="#000000" stroke-width="1.1"/><path d="M301.86 71.92L304.61 74.67L301.86 77.42L299.11 74.67Z" stroke="#000000" stroke-width="1.5" fill="none"/>
<path d="M302.76 75.13H305.96" stroke="#000000" stroke-width="1.1"/><path d="M304.36 72.38L307.11 75.13L304.36 77.88L301.61 75.13Z" stroke="#000000" stroke-width="1.5" fill="none"/>
<path d="M305.22 74.90H308.42" stroke="#000000" stroke-width="1.1"/><path d="M306.82 72.15L309.57 74.90L306.82 77.65L304.07 74.90Z" stroke="#000000" stroke-width="1.5" fill="none"/>
<path d="M307.67 74.79H310.87" stroke="#000000" stroke-width="1.1"/><path d="M309.27 72.04L312.02 74.79L309.27 77.54L306.52 74.79Z" stroke="#000000" stroke-width="1.5" fill="none"/>
<path d="M310.09 75.06H313.29" stroke="#000000" stroke-width="1.1"/><path d="M311.69 72.31L314.44 75.06L311.69 77.81L308.94 75.06Z" stroke="#000000" stroke-width="1.5" fill="none"/>
<path d="M312.48 75.03H315.68" stroke="#000000" stroke-width="1.1"/><path d="M314.08 72.28L316.83 75.03L314.08 77.78L311.33 75.03Z" stroke="#000000" stroke-width="1.5" fill="none"/>
<path d="M314.86 75.12H318.06" stroke="#000000" stroke-width="1.1"/><path d="M316.46 72.37L319.21 75.12L316.46 77.87L313.71 75.12Z" stroke="#000000" stroke-width="1.5" fill="none"/>
<path d="M319.54 75.12H322.74" stroke="#000000" stroke-width="1.1"/><path d="M321.14 72.37L323.89 75.12L321.14 77.87L318.39 75.12Z" stroke="#000000" stroke-width="1.5" fill="none"/>
<path d="M321.85 74.52H325.05" stroke="#000000" stroke-width="1.1"/><path d="M323.45 71.77L326.20 74.52L323.45 77.27L320.70 74.52Z" stroke="#000000" stroke-width="1.5" fill="none"/>
<path d="M324.14 75.19H327.34" stroke="#000000" stroke-width="1.1"/><path d="M325.74 72.44L328.49 75.19L325.74 77.94L322.99 75.19Z" stroke="#000000" stroke-width="1.5" fill="none"/>
<path d="M326.41 74.90H329.61" stroke="#000000" stroke-width="1.1"/><path d="M328.01 72.15L330.76 74.90L328.01 77.65L325.26 74.90Z" stroke="#000000" stroke-width="1.5" fill="none"/>
<path d="M330.89 75.24H334.09" stroke="#000000" stroke-width="1.1"/><path d="M332.49 72.49L335.24 75.24L332.49 77.99L329.74 75.24Z" stroke="#000000" stroke-width="1.5" fill="none"/>
<path d="M333.10 75.08H336.30" stroke="#000000" stroke-width="1.1"/><path d="M334.70 72.33L337.45 75.08L334.70 77.83L331.95 75.08Z" stroke="#000000" stroke-width="1.5" fill="none"/>
<path d="M337.48 75.05H340.68" stroke="#000000" stroke-width="1.1"/><path d="M339.08 72.30L341.83 75.05L339.08 77.80L336.33 75.05Z" stroke="#000000" stroke-width="1.5" fill="none"/>
<path d="M339.64 74.94H342.84" stroke="#000000" stroke-width="1.1"/><path d="M341.24 72.19L343.99 74.94L341.24 77.69L338.49 74.94Z" stroke="#000000" stroke-width="1.5" fill="none"/>
<path d="M341.78 74.92H344.98" stroke="#000000" stroke-width="1.1"/><path d="M343.38 72.17L346.13 74.92L343.38 77.67L340.63 74.92Z" stroke="#000000" stroke-width="1.5" fill="none"/>
<path d="M343.91 75.21H347.11" stroke="#000000" stroke-width="1.1"/><path d="M345.51 72.46L348.26 75.21L345.51 77.96L342.76 75.21Z" stroke="#000000" stroke-width="1.5" fill="none"/>
<path d="M346.03 74.50H349.23" stroke="#000000" stroke-width="1.1"/><path d="M347.63 71.75L350.38 74.50L347.63 77.25L344.88 74.50Z" stroke="#000000" stroke-width="1.5" fill="none"/>
<path d="M348.12 74.91H351.32" stroke="#000000" stroke-width="1.1"/><path d="M349.72 72.16L352.47 74.91L349.72 77.66L346.97 74.91Z" stroke="#000000" stroke-width="1.5" fill="none"/>
<path d="M350.21 75.21H353.41" stroke="#000000" stroke-width="1.1"/><path d="M351.81 72.46L354.56 75.21L351.81 77.96L349.06 75.21Z" stroke="#000000" stroke-width="1.5" fill="none"/>
<path d="M354.33 75.16H357.53" stroke="#000000" stroke-width="1.1"/><path d="M355.93 72.41L358.68 75.16L355.93 77.91L353.18 75.16Z" stroke="#000000" stroke-width="1.5" fill="none"/>
<path d="M356.37 74.94H359.57" stroke="#000000" stroke-width="1.1"/><path d="M357.97 72.19L360.72 74.94L357.97 77.69L355.22 74.94Z" stroke="#000000" stroke-width="1.5" fill="none"/>
<path d="M358.39 74.43H361.59" stroke="#000000" stroke-width="1.1"/><path d="M359.99 71.68L362.74 74.43L359.99 77.18L357.24 74.43Z" stroke="#000000" stroke-width="1.5" fill="none"/>
<path d="M360.40 74.70H363.60" stroke="#000000" stroke-width="1.1"/><path d="M362.00 71.95L364.75 74.70L362.00 77.45L359.25 74.70Z" stroke="#000000" stroke-width="1.5" fill="none"/>
<path d="M362.40 75.06H365.60" stroke="#000000" stroke-width="1.1"/><path d="M364.00 72.31L366.75 75.06L364.00 77.81L361.25 75.06Z" stroke="#000000" stroke-width="1.5" fill="none"/>
<path d="M364.39 75.30H367.59" stroke="#000000" stroke-width="1.1"/><path d="M365.99 72.55L368.74 75.30L365.99 78.05L363.24 75.30Z" stroke="#000000" stroke-width="1.5" fill="none"/>
<path d="M366.36 74.75H369.56" stroke="#000000" stroke-width="1.1"/><path d="M367.96 72.00L370.71 74.75L367.96 77.50L365.21 74.75Z" stroke="#000000" stroke-width="1.5" fill="none"/>
<path d="M370.26 75.03H373.46" stroke="#000000" stroke-width="1.1"/><path d="M371.86 72.28L374.61 75.03L371.86 77.78L369.11 75.03Z" stroke="#000000" stroke-width="1.5" fill="none"/>
<path d="M372.20 74.68H375.40" stroke="#000000" stroke-width="1.1"/><path d="M373.80 71.93L376.55 74.68L373.80 77.43L371.05 74.68Z" stroke="#000000" stroke-width="1.5" fill="none"/>
<path d="M374.12 75.05H377.32" stroke="#000000" stroke-width="1.1"/><path d="M375.72 72.30L378.47 75.05L375.72 77.80L372.97 75.05Z" stroke="#000000" stroke-width="1.5" fill="none"/>
</g>
<rect x="61.5" y="14.0" width="316.0" height="228.1" fill="none" stroke="#606060" stroke-width="1.1"/>
<path d="M61.30 242.1v-2.5M61.30 14.0v2.5M118.80 242.1v-2.5M118.80 14.0v2.5M176.30 242.1v-2.5M176.30 14.0v2.5M233.80 242.1v-2.5M233.80 14.0v2.5M291.30 242.1v-2.5M291.30 14.0v2.5M348.80 242.1v-2.5M348.80 14.0v2.5M61.5 19.40h2.5M377.5 19.40h-2.5M61.5 47.20h2.5M377.5 47.20h-2.5M61.5 75.00h2.5M377.5 75.00h-2.5M61.5 102.80h2.5M377.5 102.80h-2.5M61.5 130.60h2.5M377.5 130.60h-2.5M61.5 158.40h2.5M377.5 158.40h-2.5M61.5 186.20h2.5M377.5 186.20h-2.5M61.5 214.00h2.5M377.5 214.00h-2.5M61.5 241.80h2.5M377.5 241.80h-2.5" stroke="#333" stroke-width="1" fill="none"/>
<g font-family="Liberation Serif, serif" font-size="11.6" fill="#1c1c1c">
<text x="53.5" y="23.55" text-anchor="end">1</text>
<text x="53.5" y="51.35" text-anchor="end">0.5</text>
<text x="53.5" y="79.15" text-anchor="end">0</text>
<text x="53.5" y="106.95" text-anchor="end">-0.5</text>
<text x="53.5" y="134.75" text-anchor="end">-1</text>
<text x="53.5" y="162.55" text-anchor="end">-1.5</text>
<text x="53.5" y="190.35" text-anchor="end">-2</text>
<text x="53.5" y="218.15" text-anchor="end">-2.5</text>
<text x="53.5" y="245.95" text-anchor="end">-3</text>
<text x="62.10" y="258" text-anchor="middle">0</text>
<text x="119.60" y="258" text-anchor="middle">0.2</text>
<text x="177.10" y="258" text-anchor="middle">0.4</text>
<text x="234.60" y="258" text-anchor="middle">0.6</text>
<text x="292.10" y="258" text-anchor="middle">0.8</text>
<text x="349.60" y="258" text-anchor="middle">1</text>
</g>
<text x="206.4" y="279.1" font-family="Liberation Serif, serif" font-style="italic" font-size="17" fill="#1c1c1c">rT<tspan font-size="10.5" dx="-0.7" dy="-1.0">pc</tspan></text>
<g transform="translate(16.6,160.4) rotate(-90)"><text font-family="Liberation Serif, serif" font-size="13.5" fill="#1c1c1c">v<tspan dy="5" font-size="12.5">0</tspan><tspan dy="-5" dx="0.5" font-size="15.3" letter-spacing="0.45" font-style="italic">(r,T) / T</tspan><tspan dy="3" font-size="10.5" font-style="italic">pc</tspan></text></g>
<text x="205.5" y="52" font-family="Liberation Serif, serif" font-size="15.5" fill="#1c1c1c">v<tspan dx="-0.3" dy="5.4" font-size="14.5">0</tspan><tspan dx="-0.5" dy="-12.8" font-size="13.5" font-weight="bold">8</tspan></text>
<text x="205.5" y="163.5" font-family="Liberation Serif, serif" font-size="15.5" fill="#1c1c1c">v<tspan dx="-0.3" dy="5.4" font-size="14.5">0</tspan><tspan dx="-0.5" dy="-12.8" font-size="13.5" font-weight="bold">1</tspan></text>
<text x="324.8" y="189.50" text-anchor="end" font-family="Liberation Serif, serif" font-size="11.8" fill="#1c1c1c">1.08<tspan font-style="italic">T</tspan><tspan font-style="italic" font-size="8.3" dy="0.9">pc</tspan></text>
<path d="M331.4 185.2H363.6M331.6 183.39999999999998v3.6M363.4 183.39999999999998v3.6" stroke="#00a000" stroke-width="1.25" fill="none"/>
<path d="M344.60 182.50L350.00 187.90M344.60 187.90L350.00 182.50" stroke="#00a000" stroke-width="1.4" fill="none"/>
<text x="324.8" y="201.50" text-anchor="end" font-family="Liberation Serif, serif" font-size="11.8" fill="#1c1c1c">1.20<tspan font-style="italic">T</tspan><tspan font-style="italic" font-size="8.3" dy="0.9">pc</tspan></text>
<path d="M331.4 197.2H363.6M331.6 195.39999999999998v3.6M363.4 195.39999999999998v3.6" stroke="#0000ff" stroke-width="1.25" fill="none"/>
<path d="M345.70 197.20H348.90" stroke="#0000ff" stroke-width="1.1"/><rect x="344.60" y="194.50" width="5.4" height="5.4" stroke="#0000ff" stroke-width="1.4" fill="none"/>
<text x="324.8" y="213.50" text-anchor="end" font-family="Liberation Serif, serif" font-size="11.8" fill="#1c1c1c">1.35<tspan font-style="italic">T</tspan><tspan font-style="italic" font-size="8.3" dy="0.9">pc</tspan></text>
<path d="M331.4 209.2H363.6M331.6 207.39999999999998v3.6M363.4 207.39999999999998v3.6" stroke="#ff00ff" stroke-width="1.25" fill="none"/>
<path d="M345.70 209.20H348.90" stroke="#ff00ff" stroke-width="1.1"/><circle cx="347.30" cy="209.20" r="2.75" stroke="#ff00ff" stroke-width="1.4" fill="none"/>
<text x="324.8" y="225.60" text-anchor="end" font-family="Liberation Serif, serif" font-size="11.8" fill="#1c1c1c">1.69<tspan font-style="italic">T</tspan><tspan font-style="italic" font-size="8.3" dy="0.9">pc</tspan></text>
<path d="M331.4 221.3H363.6M331.6 219.5v3.6M363.4 219.5v3.6" stroke="#ff4500" stroke-width="1.25" fill="none"/>
<path d="M347.30 217.60L351.35 224.35H343.25Z" fill="#ff4500"/><path d="M347.30 220.00L348.40 222.20H346.20Z" fill="#ff9a70"/>
<text x="324.8" y="237.50" text-anchor="end" font-family="Liberation Serif, serif" font-size="11.8" fill="#1c1c1c">2.07<tspan font-style="italic">T</tspan><tspan font-style="italic" font-size="8.3" dy="0.9">pc</tspan></text>
<path d="M331.4 233.2H363.6M331.6 231.39999999999998v3.6M363.4 231.39999999999998v3.6" stroke="#000000" stroke-width="1.25" fill="none"/>
<path d="M345.70 233.20H348.90" stroke="#000000" stroke-width="1.1"/><path d="M347.30 230.45L350.05 233.20L347.30 235.95L344.55 233.20Z" stroke="#000000" stroke-width="1.5" fill="none"/>
</svg>
</body></html>
